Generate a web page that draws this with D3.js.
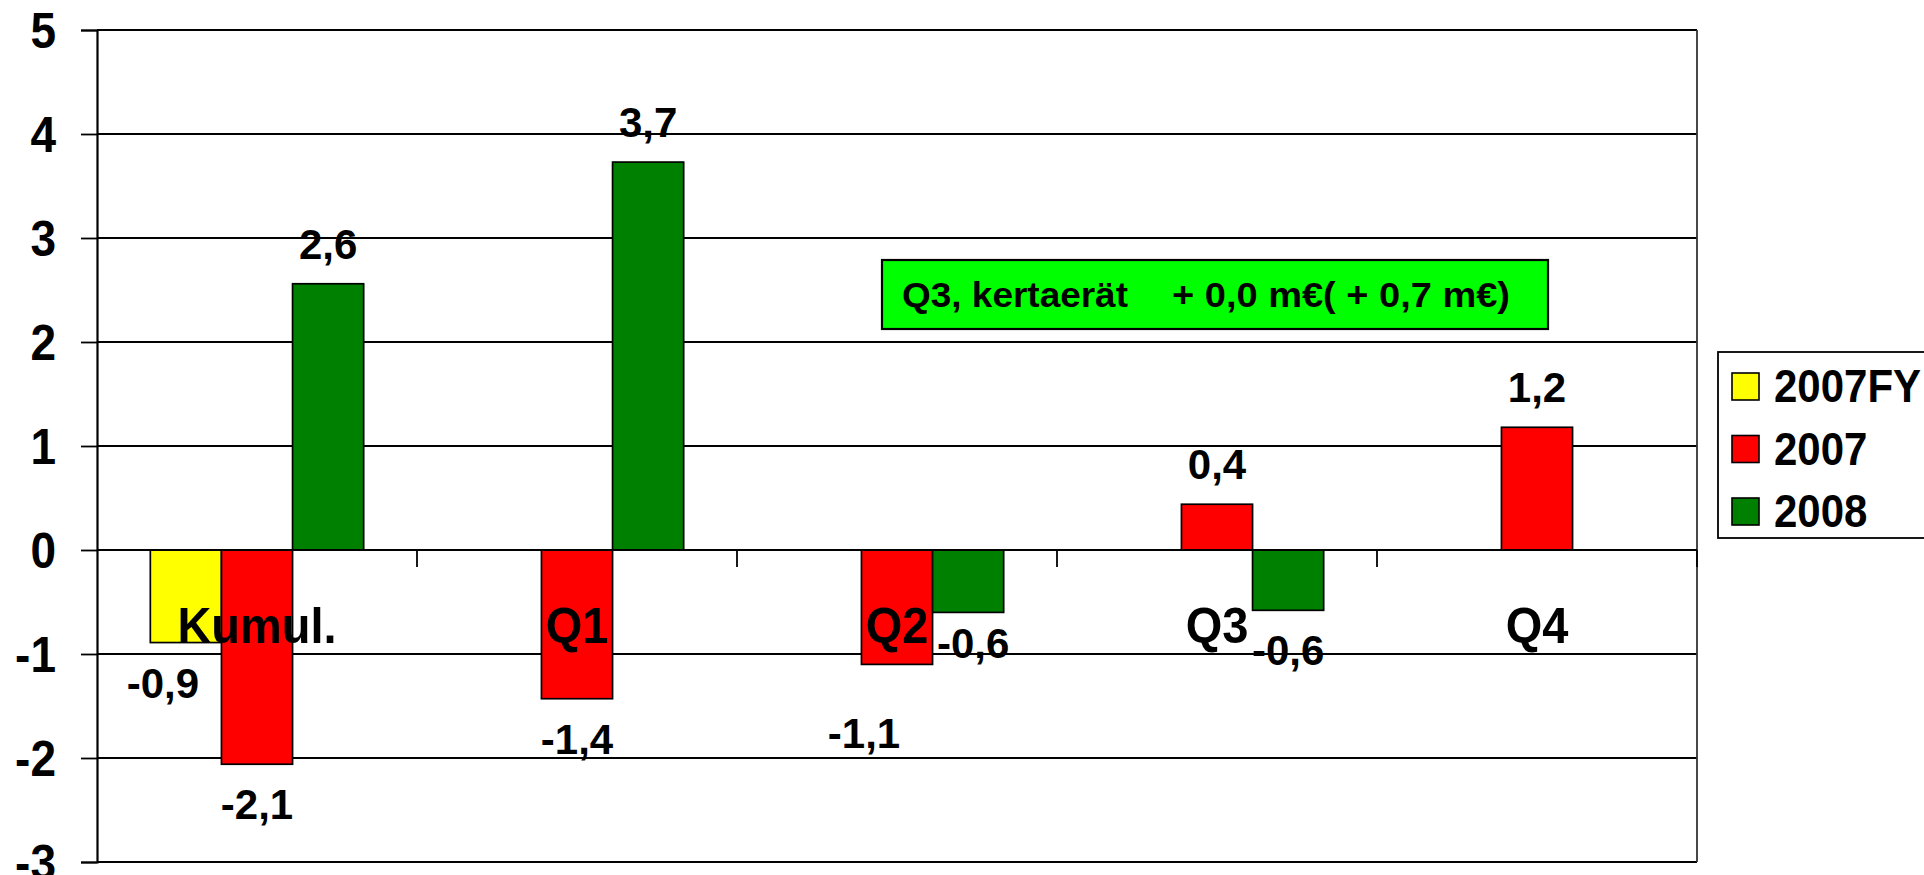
<!DOCTYPE html>
<html>
<head>
<meta charset="utf-8">
<script src="https://cdn.jsdelivr.net/npm/d3@7"></script>
<style>
  html, body { margin: 0; padding: 0; background: #fff; overflow: hidden; }
  text { font-family: "Liberation Sans", Arial, sans-serif; font-weight: bold; fill: #000; }
</style>
</head>
<body>
<svg id="chart" width="1924" height="875"></svg>
<script>
// ---- data ----
const categories = ["Kumul.", "Q1", "Q2", "Q3", "Q4"];
const seriesNames = ["2007FY", "2007", "2008"];
const values2007FY = [-0.89, null, null, null, null];
const values2007 = [-2.06, -1.43, -1.10, 0.44, 1.18];
const values2008 = [2.56, 3.73, -0.60, -0.58, null];
const yTicks = [-3, -2, -1, 0, 1, 2, 3, 4, 5];
const annotationLeft = "Q3, kertaerät";
const annotationRight = "+ 0,0 m€( + 0,7 m€)";

(function () {
// ---- styles / layout ----
const seriesColors = { "2007FY": "#FFFF00", "2007": "#FF0000", "2008": "#008000" };
// manual label nudges (as in the original, a few labels were moved by hand)
const labelNudge = { "2007FY|Kumul.": [-23, 0], "2007|Q2": [-33, 29], "2008|Q2": [5, -9] };
const stretch = 1.08; // vertical stretch of the original's lettering

const svg = d3.select("#chart");
const pLeft = 97, pRight = 1697, pTop = 30, pBottom = 862;

const x = d3.scaleBand().domain(categories).range([pLeft, pRight]).paddingInner(0).paddingOuter(0);
const xs = d3.scaleBand().domain(seriesNames).range([0, x.bandwidth()]).paddingInner(0).paddingOuter(0.75);
const y = d3.scaleLinear().domain([-3, 5]).range([pBottom, pTop]);

const seriesData = [
  { name: "2007FY", vals: values2007FY },
  { name: "2007", vals: values2007 },
  { name: "2008", vals: values2008 }
];

// stretched text helper: places text baseline at (tx, ty) and scales vertically about the baseline
function stretchedText(sel, tx, ty) {
  sel.attr("x", 0).attr("y", 0)
    .attr("transform", (d, i) => {
      const X = typeof tx === "function" ? tx(d, i) : tx;
      const Y = typeof ty === "function" ? ty(d, i) : ty;
      return `translate(${X},${Y}) scale(1,${stretch})`;
    });
  return sel;
}

// gridlines
svg.append("g").selectAll("line").data(yTicks).join("line")
  .attr("x1", pLeft).attr("x2", pRight)
  .attr("y1", d => y(d)).attr("y2", d => y(d))
  .attr("stroke", "#000").attr("stroke-width", 1.9);

// right border of plot area
svg.append("line").attr("x1", pRight).attr("x2", pRight).attr("y1", y(5)).attr("y2", y(-3))
  .attr("stroke", "#333").attr("stroke-width", 1.8);

// y axis
const yAxis = svg.append("g").attr("transform", `translate(${pLeft},0)`)
  .call(d3.axisLeft(y).tickValues(yTicks).tickSize(16).tickPadding(25).tickFormat(d => String(d)));
yAxis.select(".domain").attr("stroke", "#000").attr("stroke-width", 2.2);
yAxis.selectAll(".tick line").attr("stroke", "#000").attr("stroke-width", 1.8);
yAxis.selectAll(".tick text").style("font-size", "46px").style("font-weight", "bold")
  .style("font-family", "'Liberation Sans', Arial, sans-serif").attr("fill", "#000")
  .attr("dy", "0.36em").attr("transform", `scale(1,${stretch})`);

// bars
const barItems = [];
seriesData.forEach(s => {
  s.vals.forEach((v, i) => {
    if (v !== null && v !== undefined) barItems.push({ series: s.name, cat: categories[i], v });
  });
});
svg.append("g").selectAll("rect").data(barItems).join("rect")
  .attr("x", d => x(d.cat) + xs(d.series))
  .attr("width", xs.bandwidth())
  .attr("y", d => Math.min(y(d.v), y(0)))
  .attr("height", d => Math.abs(y(d.v) - y(0)))
  .attr("fill", d => seriesColors[d.series])
  .attr("stroke", "#000").attr("stroke-width", 1.7);

// x axis at zero
svg.append("line").attr("x1", pLeft).attr("x2", pRight).attr("y1", y(0)).attr("y2", y(0))
  .attr("stroke", "#000").attr("stroke-width", 2);
const boundaries = categories.map(c => x(c)).concat([x(categories[categories.length - 1]) + x.bandwidth()]);
svg.append("g").selectAll("line").data(boundaries.slice(1)).join("line")
  .attr("x1", d => d).attr("x2", d => d)
  .attr("y1", y(0)).attr("y2", y(0) + 17)
  .attr("stroke", "#000").attr("stroke-width", 1.8);

// category labels
stretchedText(
  svg.append("g").selectAll("text").data(categories).join("text")
    .attr("text-anchor", "middle").style("font-size", "47px").text(d => d),
  d => x(d) + x.bandwidth() / 2, 643);

// value labels
const fmt = v => d3.format(".1f")(v).replace(".", ",").replace("−", "-");
const nudge = d => labelNudge[d.series + "|" + d.cat] || [0, 0];
svg.append("g").selectAll("text").data(barItems).join("text")
  .attr("x", d => x(d.cat) + xs(d.series) + xs.bandwidth() / 2 + nudge(d)[0])
  .attr("y", d => (d.v >= 0 ? y(d.v) - 25 : y(d.v) + 55) + nudge(d)[1])
  .attr("text-anchor", "middle")
  .style("font-size", "42px")
  .text(d => fmt(d.v));

// annotation box
const ann = svg.append("g");
ann.append("rect").attr("x", 882).attr("y", 260).attr("width", 666).attr("height", 69)
  .attr("fill", "#00FF00").attr("stroke", "#000").attr("stroke-width", 2.2);
ann.append("text").attr("x", 902).attr("y", 307).style("font-size", "35px")
  .attr("textLength", 226).attr("lengthAdjust", "spacingAndGlyphs").text(annotationLeft);
ann.append("text").attr("x", 1172).attr("y", 307).style("font-size", "35px")
  .attr("textLength", 338).attr("lengthAdjust", "spacingAndGlyphs").text(annotationRight);

// legend
const lg = svg.append("g");
lg.append("rect").attr("x", 1718).attr("y", 352).attr("width", 240).attr("height", 186)
  .attr("fill", "#fff").attr("stroke", "#000").attr("stroke-width", 1.8);
const li = lg.selectAll("g.item").data(seriesNames).join("g").attr("class", "item")
  .attr("transform", (d, i) => `translate(0,${i * 62.5})`);
li.append("rect").attr("x", 1732).attr("y", 373).attr("width", 27).attr("height", 27)
  .attr("fill", d => seriesColors[d]).attr("stroke", "#000").attr("stroke-width", 1.6);
stretchedText(li.append("text").style("font-size", "42px").text(d => d), 1774, 402);
})();
</script>
</body>
</html>
